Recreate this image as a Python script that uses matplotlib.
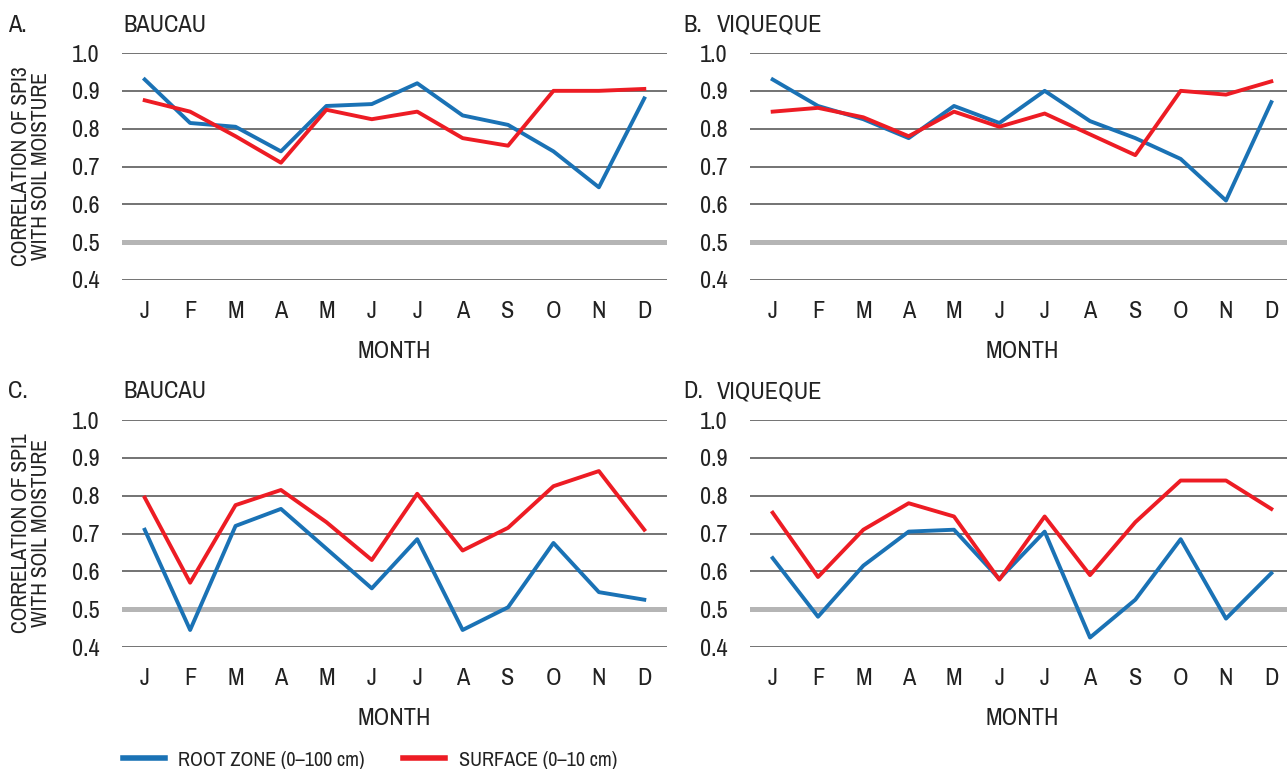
import numpy as np
import matplotlib
matplotlib.use("Agg")
import matplotlib.pyplot as plt
from matplotlib import font_manager as fm
from matplotlib.lines import Line2D

# pick a condensed face if one is installed
names = sorted({f.name for f in fm.fontManager.ttflist})
narrow = [n for n in names if "Narrow" in n or "Condensed" in n]
if "Liberation Sans Narrow" in narrow:
    FONT = "Liberation Sans Narrow"
elif narrow:
    FONT = narrow[0]
else:
    FONT = None

if FONT:
    plt.rcParams['font.family'] = [FONT, 'DejaVu Sans']
    FS, FS_LEG, FS_Y = 17.5, 14.5, 15.5
else:
    plt.rcParams['font.family'] = ['Liberation Sans', 'DejaVu Sans']
    FS, FS_LEG, FS_Y = 14, 12, 12.5

# ── data ────────────────────────────────────────────────────────────
months = ["J", "F", "M", "A", "M", "J", "J", "A", "S", "O", "N", "D"]
y_ticks = [0.4, 0.5, 0.6, 0.7, 0.8, 0.9, 1.0]

# SPI3, Baucau
a_root = [0.93, 0.815, 0.805, 0.74, 0.86, 0.865, 0.92, 0.835, 0.81, 0.74, 0.645, 0.88]
a_surf = [0.875, 0.845, 0.78, 0.71, 0.85, 0.825, 0.845, 0.775, 0.755, 0.90, 0.90, 0.905]
# SPI3, Viqueque
b_root = [0.93, 0.86, 0.825, 0.775, 0.86, 0.815, 0.90, 0.82, 0.775, 0.72, 0.61, 0.87]
b_surf = [0.845, 0.855, 0.83, 0.78, 0.845, 0.805, 0.84, 0.785, 0.73, 0.90, 0.89, 0.925]
# SPI1, Baucau
c_root = [0.71, 0.445, 0.72, 0.765, 0.66, 0.555, 0.685, 0.445, 0.505, 0.675, 0.545, 0.525]
c_surf = [0.795, 0.57, 0.775, 0.815, 0.73, 0.63, 0.805, 0.655, 0.715, 0.825, 0.865, 0.71]
# SPI1, Viqueque
d_root = [0.635, 0.48, 0.615, 0.705, 0.71, 0.58, 0.705, 0.425, 0.525, 0.685, 0.475, 0.595]
d_surf = [0.755, 0.585, 0.71, 0.78, 0.745, 0.578, 0.745, 0.59, 0.73, 0.84, 0.84, 0.765]

BLUE = "#1a72b5"
RED = "#ed1c24"
GRID = "#4d4d4d"
REF = "#b5b5b5"
TXT = "#222222"

W, H = 1287, 769
fig = plt.figure(figsize=(W / 100, H / 100), dpi=100)


def px_axes(x0, x1, y_top, y_bot):
    return fig.add_axes([x0 / W, 1 - y_bot / H, (x1 - x0) / W, (y_bot - y_top) / H])


panels = [
    # letter, station, root, surf, (x0, x1, ytop, ybot), letter x, ylabel
    ("A.", "BAUCAU", a_root, a_surf, (122, 667, 53, 280), 8, "CORRELATION OF SPI3\nWITH SOIL MOISTURE"),
    ("B.", "VIQUEQUE", b_root, b_surf, (750, 1294, 53, 280), 683, None),
    ("C.", "BAUCAU", c_root, c_surf, (122, 667, 420, 647), 8, "CORRELATION OF SPI1\nWITH SOIL MOISTURE"),
    ("D.", "VIQUEQUE", d_root, d_surf, (750, 1294, 420, 647), 683, None),
]

x = np.arange(len(months))
for letter, station, root, surf, box, lx, ylab in panels:
    x0, x1, yt, yb = box
    ax = px_axes(x0, x1, yt, yb)
    ax.set_xlim(-0.5, 11.5)
    ax.set_ylim(0.4, 1.0)

    # horizontal rules, 0.5 drawn as the thick grey reference
    for v in y_ticks:
        if abs(v - 0.5) < 1e-9:
            ax.axhline(v, color=REF, lw=3.6, zorder=1)
        else:
            ax.axhline(v, color=GRID, lw=1.1, zorder=1)

    ax.plot(x, root, color=BLUE, lw=2.8, zorder=3, clip_on=False)
    ax.plot(x, surf, color=RED, lw=2.8, zorder=4, clip_on=False)

    ax.set_xticks(x)
    ax.set_xticklabels(months)
    ax.set_yticks(y_ticks)
    ax.set_yticklabels([f"{v:.1f}" for v in y_ticks])
    ax.tick_params(axis="both", length=0, labelsize=FS, colors=TXT)
    ax.tick_params(axis="y", pad=16)
    ax.tick_params(axis="x", pad=15)
    ax.set_xlabel("MONTH", fontsize=FS, color=TXT, labelpad=14)
    for s in ax.spines.values():
        s.set_visible(False)
    ax.patch.set_alpha(0)

    ty = 1 - (yt - 28) / H
    fig.text(lx / W, ty, letter, fontsize=FS, color=TXT, ha="left", va="center")
    fig.text((x0 + 1) / W if x0 < 400 else 717 / W, ty, station,
             fontsize=FS, color=TXT, ha="left", va="center")

    if ylab:
        fig.text(31 / W, 1 - ((yt + yb) / 2) / H, ylab, rotation=90, fontsize=FS_Y,
                 color=TXT, ha="center", va="center", multialignment="center",
                 linespacing=1.0)

# legend
handles = [Line2D([], [], color=BLUE, lw=4),
           Line2D([], [], color=RED, lw=4)]
fig.legend(handles, ["ROOT ZONE (0\u2013100 cm)", "SURFACE (0\u201310 cm)"],
           loc="center left", bbox_to_anchor=(123 / W, 1 - 760 / H), ncol=2,
           frameon=False, fontsize=FS_LEG, handlelength=2.1, handletextpad=0.65,
           columnspacing=1.9, borderpad=0, borderaxespad=0,
           labelcolor=TXT)

fig.savefig("out.png", dpi=100)
